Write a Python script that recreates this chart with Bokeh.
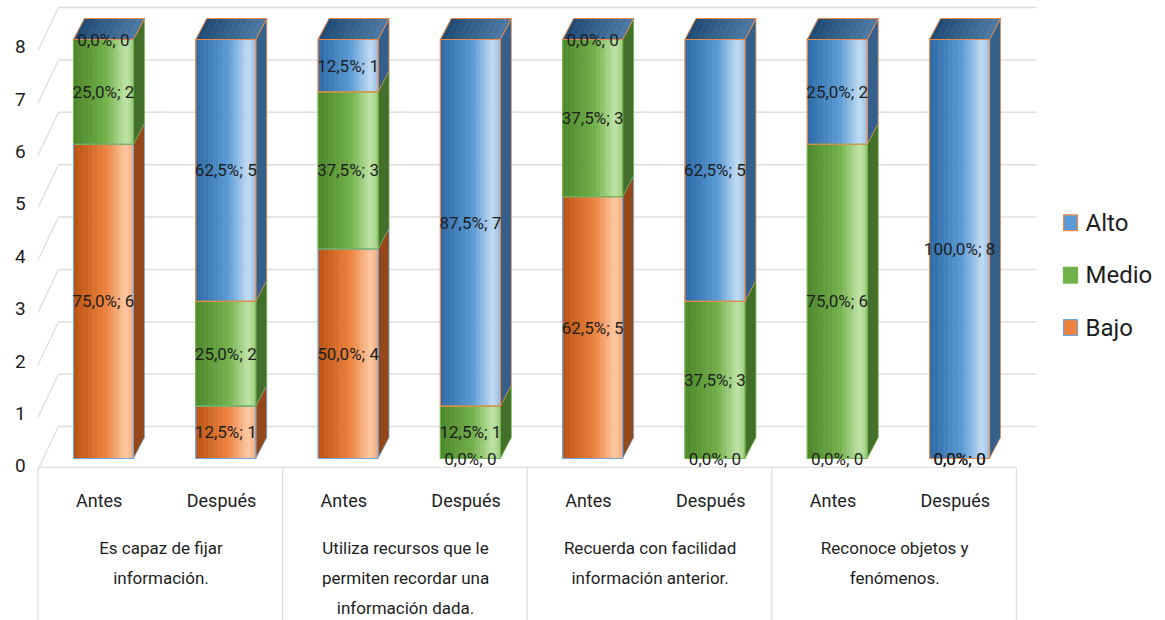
import numpy as np
from bokeh.plotting import figure
from bokeh.models import Range1d
from bokeh.core.properties import value
from bokeh.embed import file_html
from bokeh.resources import INLINE

# ---------------- data ----------------
conditions = ["Antes", "Después", "Antes", "Después", "Antes", "Después", "Antes", "Después"]
groups = [
    "Es capaz de fijar\ninformación.",
    "Utiliza recursos que le\npermiten recordar una\ninformación dada.",
    "Recuerda con facilidad\ninformación anterior.",
    "Reconoce objetos y\nfenómenos.",
]
series_names = ["Bajo", "Medio", "Alto"]
bajo = [6, 1, 4, 0, 5, 0, 0, 0]
medio = [2, 2, 3, 1, 3, 3, 6, 0]
alto = [0, 5, 1, 7, 0, 5, 2, 8]
y_ticks = [0, 1, 2, 3, 4, 5, 6, 7, 8]
legend_order = ["Alto", "Medio", "Bajo"]

# ---------------- style ----------------
FONT = "Roboto"
STYLE = {
    "Bajo": dict(dark="#b9500d", mid="#ee8340", light="#fcc9a4", side="#94481a", border="#6fa6db"),
    "Medio": dict(dark="#4b8629", mid="#72b04a", light="#c0e4a8", side="#42702a", border="#74b34c"),
    "Alto": dict(dark="#2a68a6", mid="#5b9bd5", light="#c3dcf3", side="#35608c", border="#ef8a45"),
}
TOP_DARK, TOP_LIGHT = "#1f4a74", "#4d7aa6"
GRID = "#dedede"
TEXT = "#1e1e1e"

BAR_W = 0.49      # bar width in x units
DX, DY = 0.09, 0.40   # 3D depth offset
NSTRIP = 24


def hex2rgb(h):
    h = h.lstrip("#")
    return np.array([int(h[i:i + 2], 16) for i in (0, 2, 4)], dtype=float)


def rgb2hex(c):
    c = np.clip(np.round(c), 0, 255).astype(int)
    return "#%02x%02x%02x" % tuple(c)


def grad(st, t):
    d, m, l = hex2rgb(st["dark"]), hex2rgb(st["mid"]), hex2rgb(st["light"])
    if t < 0.55:
        c = d + (m - d) * (t / 0.55)
    elif t < 0.88:
        c = m + (l - m) * ((t - 0.55) / 0.33)
    else:
        c = l + (m - l) * ((t - 0.88) / 0.12) * 0.45
    return rgb2hex(c)


p = figure(width=1165, height=620,
           x_range=Range1d(-0.842, 8.684), y_range=Range1d(-3.093, 8.745),
           output_backend="svg", toolbar_location=None,
           x_axis_location=None, y_axis_location=None, min_border=0)
p.grid.visible = False
p.outline_line_color = None
p.background_fill_color = "white"
p.border_fill_color = "white"

n = len(conditions)
xc = np.arange(n)

# ---------------- back wall / floor grid ----------------
back_left, back_right = -0.368, 7.63
front_left = -0.535
for v in y_ticks:
    p.line([back_left, back_right], [v + 0.61, v + 0.61], line_color=GRID, line_width=1.6)
    p.line([front_left, back_left], [v - 0.21, v + 0.61], line_color=GRID, line_width=1.3)

# floor front edge + group separators
edges = [2 * k - 0.535 for k in range(len(groups) + 1)]
p.line([edges[0], edges[-1]], [-0.17, -0.17], line_color=GRID, line_width=1.3)
for e in edges:
    p.line([e, e], [-0.17, -3.2], line_color=GRID, line_width=1.3)

# ---------------- bars ----------------
vals = {"Bajo": bajo, "Medio": medio, "Alto": alto}
ql, qr, qb, qt, qc = [], [], [], [], []
ol, orr, ob, ot, oc = [], [], [], [], []
sx, sy, sc, slc = [], [], [], []
lab_x, lab_y, lab_t = [], [], []
tops = np.zeros(n)
for i in range(n):
    base = 0.0
    total = sum(vals[s][i] for s in series_names)
    for s in series_names:
        v = vals[s][i]
        st = STYLE[s]
        b, t = base, base + v
        lab_x.append(xc[i])
        lab_y.append(b + v / 2)
        pct = 100.0 * v / total
        lab_t.append(("%.1f%%; %d" % (pct, v)).replace(".", ","))
        if v > 0:
            left0 = xc[i] - BAR_W / 2
            sw = BAR_W / NSTRIP
            for k in range(NSTRIP):
                ql.append(left0 + k * sw)
                qr.append(left0 + (k + 1) * sw)
                qb.append(b)
                qt.append(t)
                qc.append(grad(st, (k + 0.5) / NSTRIP))
            ol.append(left0); orr.append(left0 + BAR_W); ob.append(b); ot.append(t); oc.append(st["border"])
            r = xc[i] + BAR_W / 2
            sx.append([r, r + DX, r + DX, r])
            sy.append([b, b + DY, t + DY, t])
            sc.append(st["side"])
            slc.append(st["border"])
        base = t
    tops[i] = base

p.patches(sx, sy, fill_color=sc, line_color=slc, line_width=1, line_alpha=0.7)
p.quad(left=ql, right=qr, bottom=qb, top=qt, fill_color=qc, line_color=qc, line_width=0.6)
p.quad(left=ol, right=orr, bottom=ob, top=ot, fill_color=None, line_color=oc, line_width=1.2)

# top faces (topmost series: Alto), with a light horizontal gradient
tx, ty, tc = [], [], []
NT = 10
d0, d1 = hex2rgb(TOP_DARK), hex2rgb(TOP_LIGHT)
for i in range(n):
    l, T = xc[i] - BAR_W / 2, tops[i]
    sw = BAR_W / NT
    for k in range(NT):
        a, bb = l + k * sw, l + (k + 1) * sw
        tx.append([a, a + DX, bb + DX, bb])
        ty.append([T, T + DY, T + DY, T])
        tc.append(rgb2hex(d0 + (d1 - d0) * (k + 0.5) / NT))
p.patches(tx, ty, fill_color=tc, line_color=tc, line_width=0.6)
ox, oy = [], []
for i in range(n):
    l, r, T = xc[i] - BAR_W / 2, xc[i] + BAR_W / 2, tops[i]
    ox.append([l, l + DX, r + DX, r])
    oy.append([T, T + DY, T + DY, T])
p.patches(ox, oy, fill_color=None, line_color=STYLE["Alto"]["border"], line_width=1)

# data labels
p.text(lab_x, lab_y, text=lab_t, text_align="center", text_baseline="middle",
       text_font=value(FONT), text_font_size="17px", text_color=TEXT)

# ---------------- axes (drawn) ----------------
p.text([-0.68] * len(y_ticks), [v - 0.14 for v in y_ticks], text=[str(v) for v in y_ticks],
       text_align="center", text_baseline="middle", text_font=value(FONT),
       text_font_size="19px", text_color=TEXT)

p.text(list(xc - 0.035), [-0.80] * n, text=conditions, text_align="center",
       text_baseline="middle", text_font=value(FONT), text_font_size="18px", text_color=TEXT)

gx, gy, gt = [], [], []
for g, lab in enumerate(groups):
    for j, line in enumerate(lab.split("\n")):
        gx.append(2 * g + 0.5 - 0.03)
        gy.append(-1.70 - 0.58 * j)
        gt.append(line)
p.text(gx, gy, text=gt, text_align="center", text_baseline="middle",
       text_font=value(FONT), text_font_size="17px", text_color=TEXT)

# ---------------- legend ----------------
leg_y = [4.5, 3.5, 2.5]
for s, yy in zip(legend_order, leg_y):
    st = STYLE[s]
    p.quad(left=[7.85], right=[7.965], bottom=[yy - 0.15], top=[yy + 0.15],
           fill_color=st["mid"], line_color=st["border"], line_width=1.2)
p.text([8.03] * 3, leg_y, text=legend_order, text_align="left", text_baseline="middle",
       text_font=value(FONT), text_font_size="24px", text_color=TEXT)

open("out.html", "w").write(file_html(p, INLINE))
